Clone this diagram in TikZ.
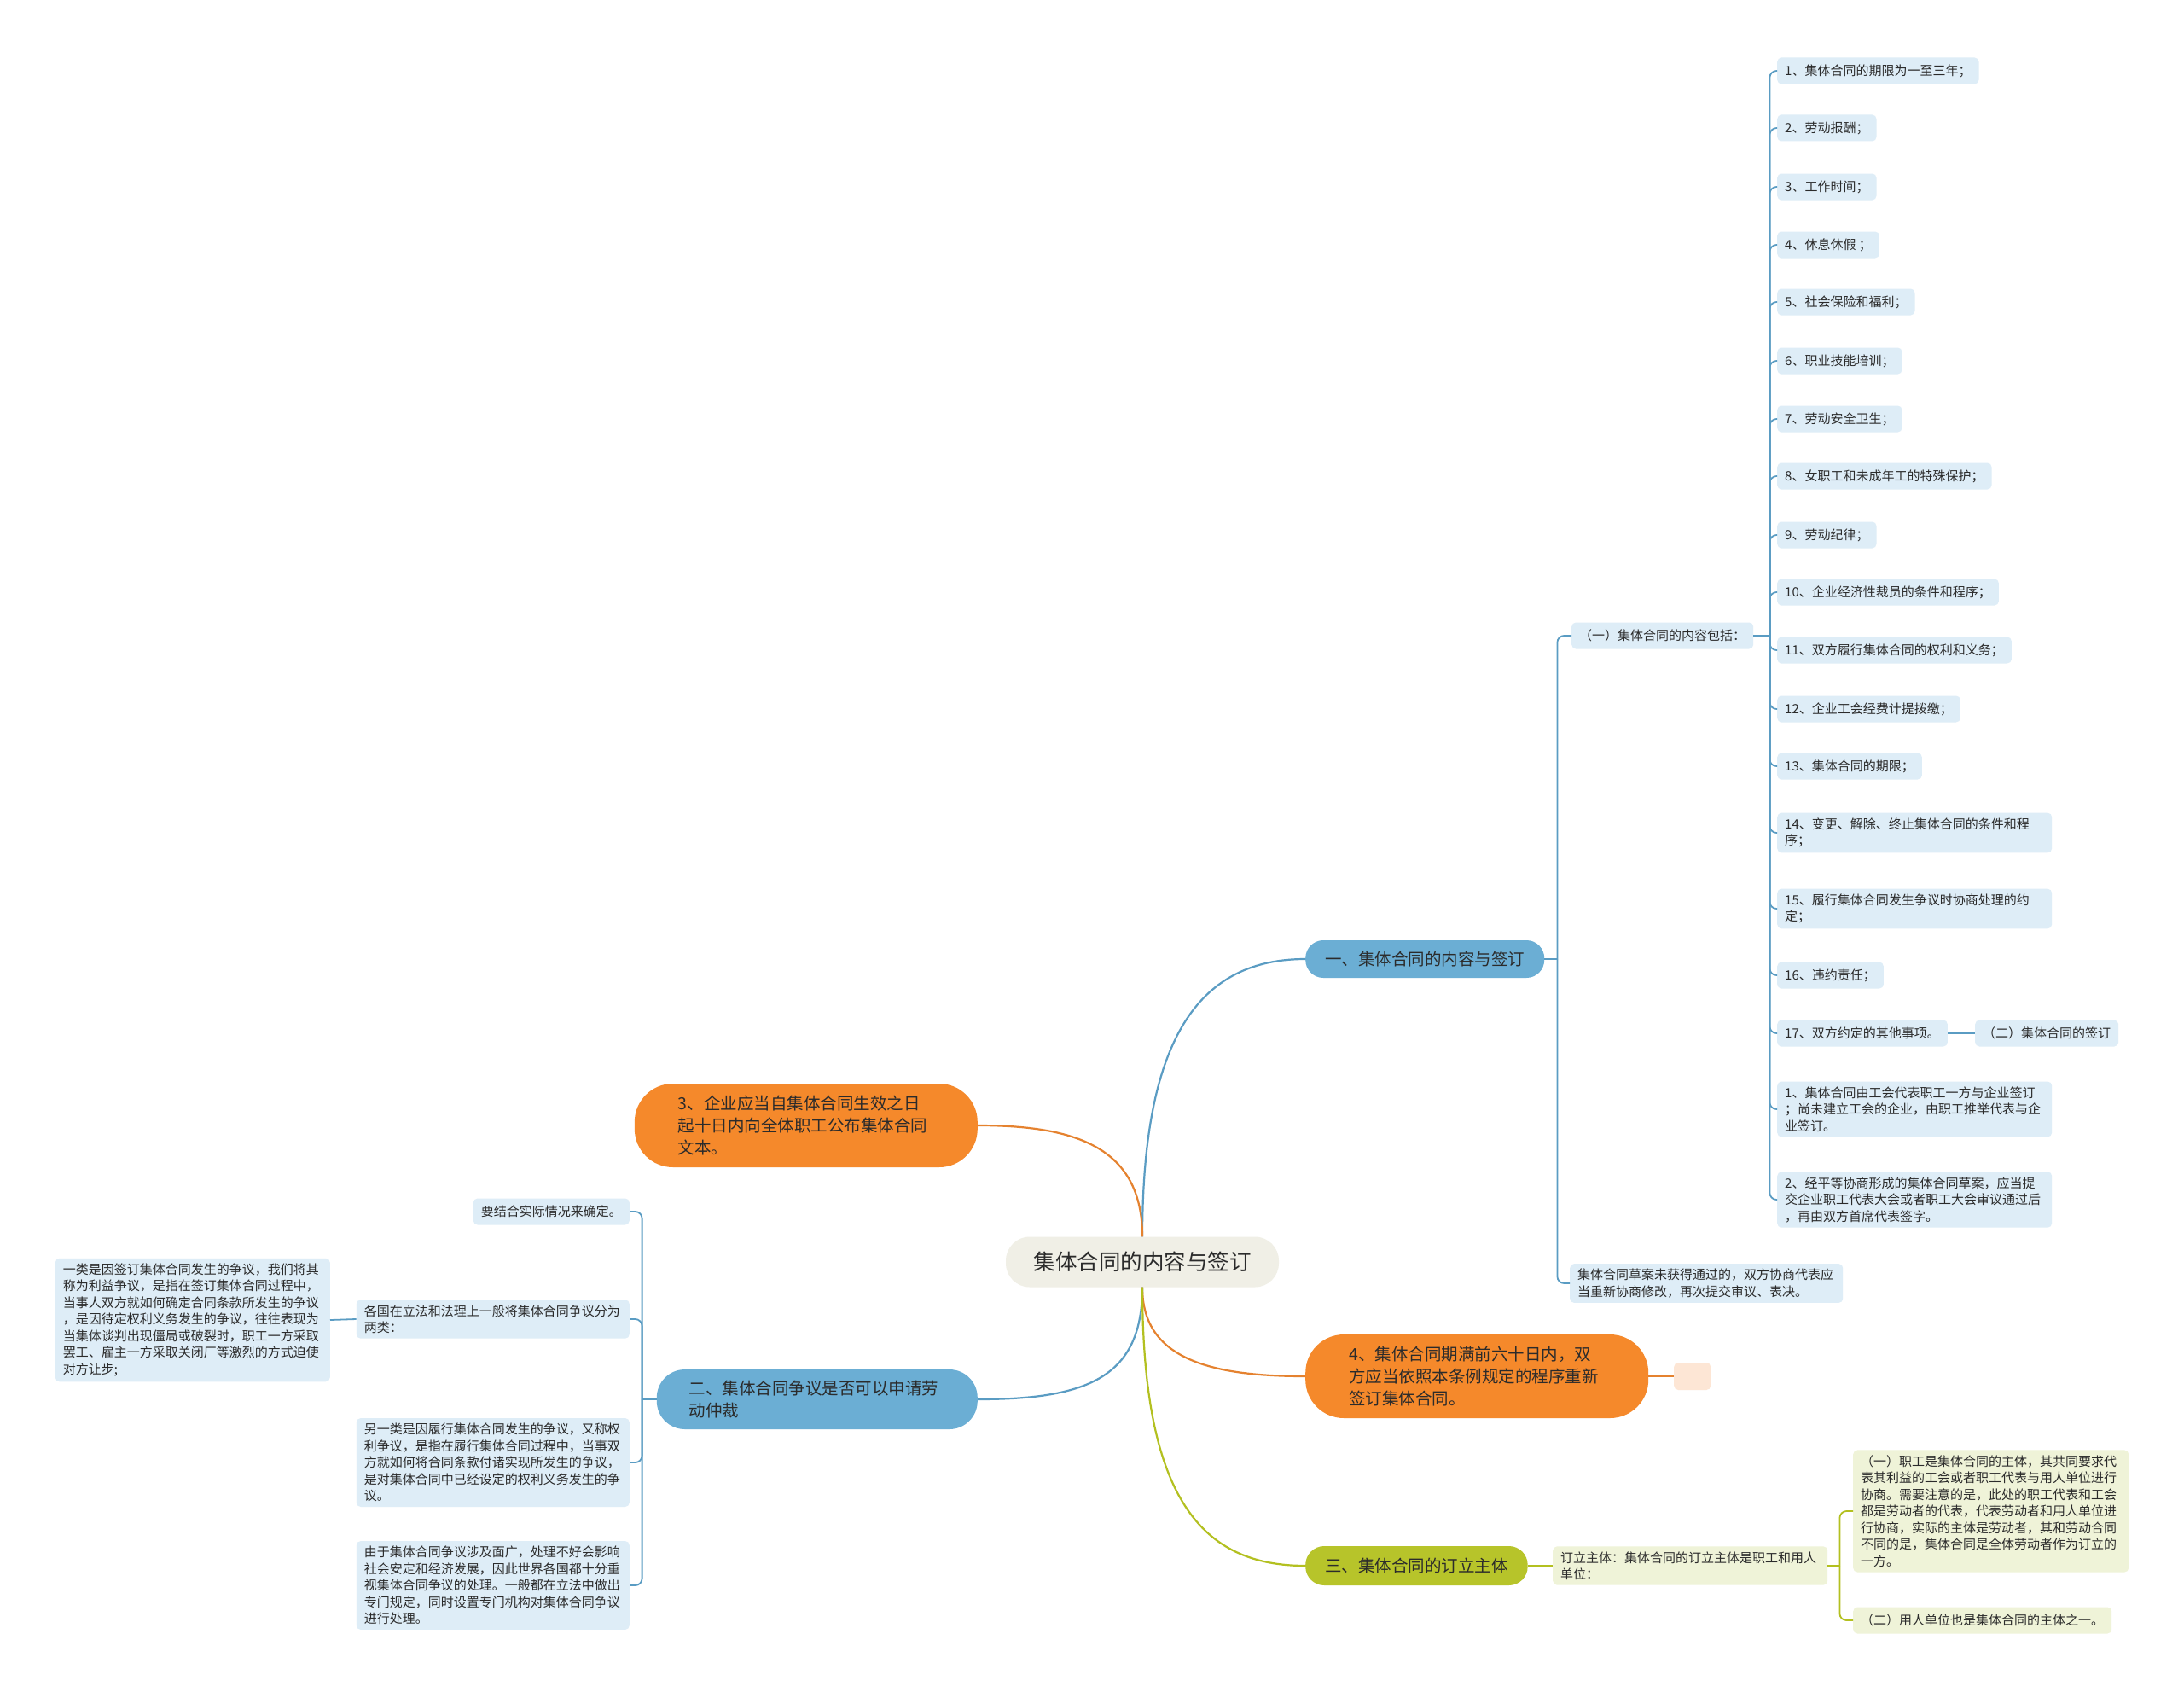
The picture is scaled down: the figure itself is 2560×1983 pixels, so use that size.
\documentclass[tikz,border=0pt]{standalone}
\usepackage{fontspec}
\newfontfamily\cjk{Noto Sans CJK SC}
\definecolor{txt}{HTML}{2B2B2B}
\definecolor{itemblue}{HTML}{DEEDF7}
\definecolor{brblue}{HTML}{6BAED4}
\definecolor{lnblue}{HTML}{5A9CC3}
\definecolor{brorange}{HTML}{F5892B}
\definecolor{lnorange}{HTML}{E5822F}
\definecolor{brgreen}{HTML}{B7C42A}
\definecolor{lngreen}{HTML}{B3C020}
\definecolor{itemgreen}{HTML}{EFF3D8}
\definecolor{ctrfill}{HTML}{F0EFE6}
\definecolor{peach}{HTML}{FDE6D5}
\tikzset{
  base/.style={font=\cjk\fontsize{15}{19.5}\selectfont, text=txt, align=left},
  item/.style={base, fill=itemblue, rounded corners=5pt, inner xsep=9pt, inner ysep=6pt, minimum height=31pt},
  gitem/.style={item, fill=itemgreen},
  branch/.style={font=\cjk\fontsize{19.5}{26}\selectfont, text=txt, align=left, inner ysep=9pt},
  ctrbox/.style={font=\cjk\fontsize{25.5}{30}\selectfont, text=txt, fill=ctrfill, rounded corners=28pt, minimum width=320pt, minimum height=59pt},
  lb/.style={draw=lnblue, line width=2.2pt},
  lo/.style={draw=lnorange, line width=2.2pt},
  lg/.style={draw=lngreen, line width=2.2pt},
  sb/.style={draw=lnblue, line width=1.8pt, rounded corners=8pt},
  sg/.style={draw=lngreen, line width=1.8pt, rounded corners=8pt},
}
\begin{document}
\begin{tikzpicture}[x=1pt,y=-1pt]
\fill[white] (0,0) rectangle (2560,1983);
\useasboundingbox (0,0) rectangle (2560,1983);

% center
\node[ctrbox] (ctr) at (1339,1479) {集体合同的内容与签订};

% main branches
\node[branch, fill=brblue, rounded corners=21pt, anchor=west, minimum height=44pt, inner xsep=23pt] (b1) at (1530,1124) {一、集体合同的内容与签订};
\node[branch, fill=brorange, rounded corners=45pt, anchor=east, text width=300pt, inner xsep=51pt, minimum height=98pt] (b3) at (1146,1319) {3、企业应当自集体合同生效之日\\起十日内向全体职工公布集体合同\\文本。};
\node[branch, fill=brblue, rounded corners=33pt, anchor=east, text width=300pt, inner xsep=38pt, minimum height=70pt] (b2) at (1146,1640) {二、集体合同争议是否可以申请劳\\动仲裁};
\node[branch, fill=brorange, rounded corners=45pt, anchor=west, text width=300pt, inner xsep=51pt, minimum height=98pt] (b4) at (1530,1613) {4、集体合同期满前六十日内，双\\方应当依照本条例规定的程序重新\\签订集体合同。};
\node[branch, fill=brgreen, rounded corners=22pt, anchor=west, minimum height=46pt, inner xsep=23pt] (b5) at (1530,1835) {三、集体合同的订立主体};

% center connectors
\draw[lb] (ctr.north) .. controls +(0,-240) and +(-120,0) .. (b1.west);
\draw[lo] (ctr.north) .. controls +(0,-105) and +(115,0) .. (b3.east);
\draw[lb] (ctr.south) .. controls +(0,105) and +(130,0) .. (b2.east);
\draw[lo] (ctr.south) .. controls +(0,80) and +(-120,0) .. (b4.west);
\draw[lg] (ctr.south) .. controls +(0,250) and +(-120,0) .. (b5.west);

% branch 一
\node[item, anchor=west] (c1) at (1842,745) {（一）集体合同的内容包括：};
\node[item, anchor=west, text width=302pt] (c2) at (1840,1504) {集体合同草案未获得通过的，双方协商代表应\\当重新协商修改，再次提交审议、表决。};
\coordinate (sp1) at ([xshift=15pt]b1.east);
\draw[lb, line width=1.8pt] (b1.east) -- (sp1);
\draw[sb] (sp1) |- (c1.west);
\draw[sb] (sp1) |- (c2.west);

% items of (一)
\node[item, anchor=west] (i1) at (2083,83) {1、集体合同的期限为一至三年；};
\node[item, anchor=west] (i2) at (2083,150) {2、劳动报酬；};
\node[item, anchor=west] (i3) at (2083,219) {3、工作时间；};
\node[item, anchor=west] (i4) at (2083,287) {4、休息休假 ；};
\node[item, anchor=west] (i5) at (2083,354) {5、社会保险和福利；};
\node[item, anchor=west] (i6) at (2083,423) {6、职业技能培训；};
\node[item, anchor=west] (i7) at (2083,491) {7、劳动安全卫生；};
\node[item, anchor=west] (i8) at (2083,558) {8、女职工和未成年工的特殊保护；};
\node[item, anchor=west] (i9) at (2083,627) {9、劳动纪律；};
\node[item, anchor=west] (i10) at (2083,694) {10、企业经济性裁员的条件和程序；};
\node[item, anchor=west] (i11) at (2083,762) {11、双方履行集体合同的权利和义务；};
\node[item, anchor=west] (i12) at (2083,831) {12、企业工会经费计提拨缴；};
\node[item, anchor=west] (i13) at (2083,898) {13、集体合同的期限；};
\node[item, anchor=west, text width=304pt] (i14) at (2083,976) {14、变更、解除、终止集体合同的条件和程\\序；};
\node[item, anchor=west, text width=304pt] (i15) at (2083,1065) {15、履行集体合同发生争议时协商处理的约\\定；};
\node[item, anchor=west] (i16) at (2083,1143) {16、违约责任；};
\node[item, anchor=west] (i17) at (2083,1211) {17、双方约定的其他事项。};
\node[item, anchor=west, text width=304pt] (i18) at (2083,1300) {1、集体合同由工会代表职工一方与企业签订\\；尚未建立工会的企业，由职工推举代表与企\\业签订。};
\node[item, anchor=west, text width=304pt] (i19) at (2083,1406) {2、经平等协商形成的集体合同草案，应当提\\交企业职工代表大会或者职工大会审议通过后\\，再由双方首席代表签字。};
\node[item, anchor=west] (q2) at (2315,1211) {（二）集体合同的签订};
\draw[lb, line width=1.8pt] (i17.east) -- (q2.west);

\coordinate (sp2) at ([xshift=19pt]c1.east);
\draw[lb, line width=1.8pt] (c1.east) -- (sp2);
\foreach \n in {i1,i2,i3,i4,i5,i6,i7,i8,i9,i10,i11,i12,i13,i14,i15,i16,i17,i18,i19}
  \draw[sb] (sp2) |- (\n.west);

% branch 二
\node[item, anchor=east] (d1) at (738,1420) {要结合实际情况来确定。};
\node[item, anchor=east, text width=302pt] (d2) at (738,1546) {各国在立法和法理上一般将集体合同争议分为\\两类：};
\node[item, anchor=east, text width=302pt] (d3) at (738,1714) {另一类是因履行集体合同发生的争议，又称权\\利争议，是指在履行集体合同过程中，当事双\\方就如何将合同条款付诸实现所发生的争议，\\是对集体合同中已经设定的权利义务发生的争\\议。};
\node[item, anchor=east, text width=302pt] (d4) at (738,1858) {由于集体合同争议涉及面广，处理不好会影响\\社会安定和经济发展，因此世界各国都十分重\\视集体合同争议的处理。一般都在立法中做出\\专门规定，同时设置专门机构对集体合同争议\\进行处理。};
\node[item, anchor=east, text width=304pt] (d5) at (387,1547) {一类是因签订集体合同发生的争议，我们将其\\称为利益争议，是指在签订集体合同过程中，\\当事人双方就如何确定合同条款所发生的争议\\，是因待定权利义务发生的争议，往往表现为\\当集体谈判出现僵局或破裂时，职工一方采取\\罢工、雇主一方采取关闭厂等激烈的方式迫使\\对方让步;};
\coordinate (sp3) at ([xshift=-17pt]b2.west);
\draw[lb, line width=1.8pt] (b2.west) -- (sp3);
\foreach \n in {d1,d2,d3,d4}
  \draw[sb] (sp3) |- (\n.east);
\draw[lb, line width=1.8pt] (d2.west) -- (d5.east);

% branch 4
\node[fill=peach, rounded corners=5pt, minimum width=43pt, minimum height=32pt, anchor=west] (e1) at (1962,1613) {};
\draw[lo] (b4.east) -- (e1.west);

% branch 三
\node[gitem, anchor=west, text width=304pt] (g1) at (1820,1835) {订立主体：集体合同的订立主体是职工和用人\\单位：};
\draw[lg, line width=1.8pt] (b5.east) -- (g1.west);
\node[gitem, anchor=west, text width=305pt] (g2) at (2172,1771) {（一）职工是集体合同的主体，其共同要求代\\表其利益的工会或者职工代表与用人单位进行\\协商。需要注意的是，此处的职工代表和工会\\都是劳动者的代表，代表劳动者和用人单位进\\行协商，实际的主体是劳动者，其和劳动合同\\不同的是，集体合同是全体劳动者作为订立的\\一方。};
\node[gitem, anchor=west] (g3) at (2172,1899) {（二）用人单位也是集体合同的主体之一。};
\coordinate (sp4) at ([xshift=14pt]g1.east);
\draw[lg, line width=1.8pt] (g1.east) -- (sp4);
\draw[sg] (sp4) |- (g2.west);
\draw[sg] (sp4) |- (g3.west);
\end{tikzpicture}
\end{document}
